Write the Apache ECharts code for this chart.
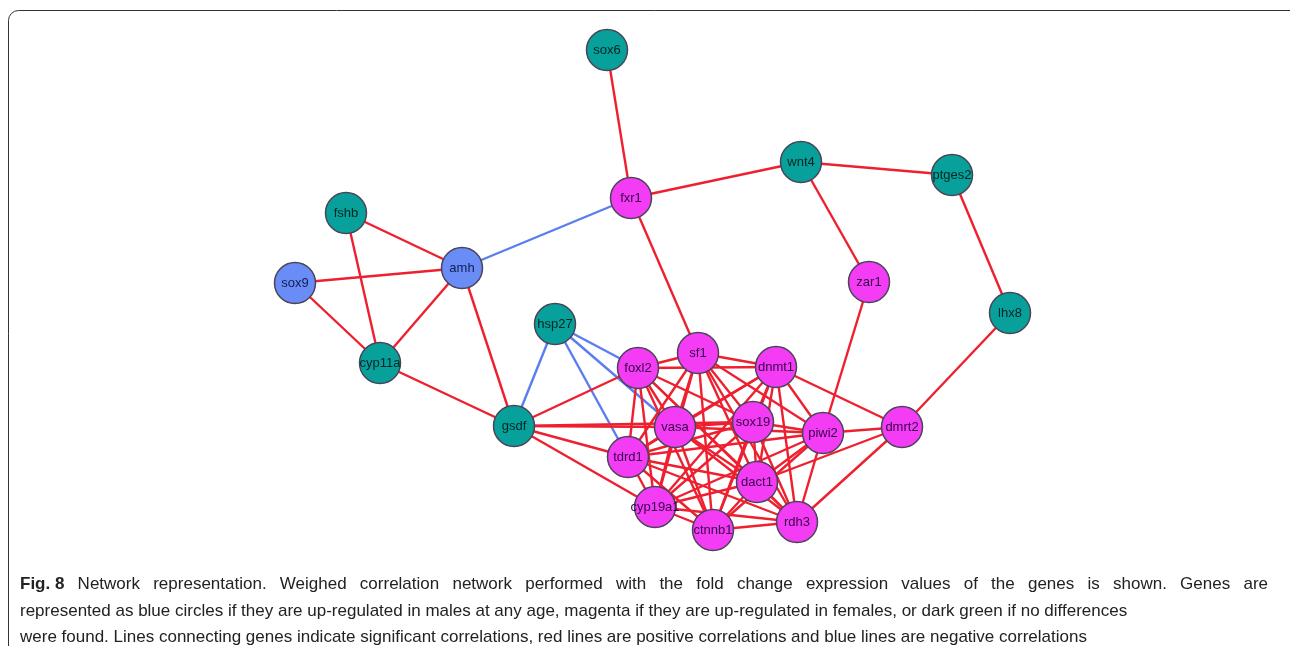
<!DOCTYPE html>
<html>
<head>
<meta charset="utf-8">
<script src="https://cdn.jsdelivr.net/npm/echarts@6/dist/echarts.min.js"></script>
<style>
  html, body { margin: 0; padding: 0; background: #fff; }
  #chart { width: 1290px; height: 646px; }
</style>
</head>
<body>
<div id="chart"></div>
<script>
// genes: name, position (px), group (0 = no difference, 1 = female up, 2 = male up)
var geneNames = ['sox6', 'wnt4', 'ptges2', 'fxr1', 'fshb', 'amh', 'sox9', 'zar1', 'lhx8', 'hsp27', 'cyp11a',
  'sf1', 'foxl2', 'dnmt1', 'vasa', 'sox19', 'piwi2', 'dmrt2', 'gsdf', 'tdrd1', 'dact1', 'cyp19a1', 'ctnnb1', 'rdh3'];
var geneX = [607, 801, 952, 631, 346, 462, 295, 869, 1010, 555, 380,
  698, 638, 776, 675, 753, 823, 902, 514, 628, 757, 655, 713, 797];
var geneY = [50, 162, 175, 198, 213, 268, 283, 282, 313, 324, 363,
  353, 368, 367, 427, 422, 433, 427, 426, 457, 482, 507, 530, 522];
var geneGroup = [0, 0, 0, 1, 0, 2, 2, 1, 0, 0, 0,
  1, 1, 1, 1, 1, 1, 1, 0, 1, 1, 1, 1, 1];

// correlations: 1 = positive (red), -1 = negative (blue); unlisted signs are positive
var edgeFrom = ['sox6', 'fxr1', 'wnt4', 'wnt4', 'ptges2', 'fxr1', 'fxr1', 'zar1', 'lhx8',
  'fshb', 'fshb', 'sox9', 'sox9', 'amh', 'amh', 'cyp11a',
  'hsp27', 'hsp27', 'hsp27', 'hsp27',
  'gsdf', 'gsdf', 'gsdf', 'gsdf', 'gsdf',
  'dmrt2', 'dmrt2', 'dmrt2', 'dmrt2',
  'foxl2', 'foxl2', 'foxl2', 'foxl2', 'foxl2', 'foxl2', 'foxl2', 'foxl2', 'foxl2',
  'sf1', 'sf1', 'sf1', 'sf1', 'sf1', 'sf1', 'sf1', 'sf1', 'sf1',
  'dnmt1', 'dnmt1', 'dnmt1', 'dnmt1', 'dnmt1', 'dnmt1', 'dnmt1', 'dnmt1',
  'vasa', 'vasa', 'vasa', 'vasa', 'vasa', 'vasa', 'vasa',
  'sox19', 'sox19', 'sox19', 'sox19', 'sox19', 'sox19',
  'piwi2', 'piwi2', 'piwi2', 'piwi2', 'piwi2',
  'tdrd1', 'tdrd1', 'tdrd1', 'tdrd1',
  'dact1', 'dact1', 'dact1',
  'cyp19a1', 'cyp19a1', 'ctnnb1'];
var edgeTo = ['fxr1', 'wnt4', 'ptges2', 'zar1', 'lhx8', 'amh', 'sf1', 'piwi2', 'dmrt2',
  'amh', 'cyp11a', 'amh', 'cyp11a', 'cyp11a', 'gsdf', 'gsdf',
  'gsdf', 'foxl2', 'vasa', 'tdrd1',
  'foxl2', 'vasa', 'sox19', 'tdrd1', 'cyp19a1',
  'dnmt1', 'piwi2', 'dact1', 'rdh3',
  'sf1', 'dnmt1', 'vasa', 'sox19', 'tdrd1', 'dact1', 'cyp19a1', 'ctnnb1', 'rdh3',
  'dnmt1', 'vasa', 'sox19', 'piwi2', 'tdrd1', 'dact1', 'cyp19a1', 'ctnnb1', 'rdh3',
  'vasa', 'sox19', 'piwi2', 'tdrd1', 'dact1', 'cyp19a1', 'ctnnb1', 'rdh3',
  'sox19', 'piwi2', 'tdrd1', 'dact1', 'cyp19a1', 'ctnnb1', 'rdh3',
  'piwi2', 'tdrd1', 'dact1', 'cyp19a1', 'ctnnb1', 'rdh3',
  'tdrd1', 'dact1', 'cyp19a1', 'ctnnb1', 'rdh3',
  'dact1', 'cyp19a1', 'ctnnb1', 'rdh3',
  'cyp19a1', 'ctnnb1', 'rdh3',
  'ctnnb1', 'rdh3', 'rdh3'];
var edgeSign = [1, 1, 1, 1, 1, -1, 1, 1, 1,
  1, 1, 1, 1, 1, 1, 1,
  -1, -1, -1, -1];

var captionLines = [
  'Network representation. Weighed correlation network performed with the fold change expression values of the genes is shown. Genes are',
  'represented as blue circles if they are up-regulated in males at any age, magenta if they are up-regulated in females, or dark green if no differences',
  'were found. Lines connecting genes indicate significant correlations, red lines are positive correlations and blue lines are negative correlations'
];

var groupColor = ['#08a09b', '#f53cf5', '#6a8cf7'];
var labelColor = ['#022624', '#34044a', '#0e1e50'];

var nodes = geneNames.map(function (name, i) {
  return {
    name: name,
    value: [geneX[i], geneY[i]],
    itemStyle: { color: groupColor[geneGroup[i]] },
    label: { color: labelColor[geneGroup[i]] }
  };
});

var links = edgeFrom.map(function (s, i) {
  var neg = edgeSign[i] === -1;
  return {
    source: s,
    target: edgeTo[i],
    lineStyle: { color: neg ? '#5a7ef0' : '#ee2030' }
  };
});

// caption: first line is justified to the full width, as in the printed figure
var capFont = '17px "Liberation Sans", Arial, sans-serif';
var capBold = 'bold 17px "Liberation Sans", Arial, sans-serif';
var ctx = document.createElement('canvas').getContext('2d');
var capGraphics = [];
(function () {
  var words = ['Fig. 8'].concat(captionLines[0].split(' '));
  var widths = words.map(function (w, i) {
    ctx.font = i === 0 ? capBold : capFont;
    return ctx.measureText(w).width;
  });
  var total = widths.reduce(function (a, b) { return a + b; }, 0);
  var gap = (1268 - 20 - total) / (words.length - 1);
  var x = 20;
  words.forEach(function (w, i) {
    capGraphics.push({
      type: 'text', x: x, y: 576,
      style: { text: w, font: i === 0 ? capBold : capFont, fill: '#222' }
    });
    x += widths[i] + gap;
  });
  capGraphics.push({ type: 'text', x: 20, y: 603, style: { text: captionLines[1], font: capFont, fill: '#222' } });
  capGraphics.push({ type: 'text', x: 20, y: 629, style: { text: captionLines[2], font: capFont, fill: '#222' } });
})();

var myChart = echarts.init(document.getElementById('chart'));
myChart.setOption({
  animation: false,
  backgroundColor: '#fff',
  grid: { left: 0, top: 0, width: 1290, height: 646 },
  xAxis: { type: 'value', min: 0, max: 1290, show: false },
  yAxis: { type: 'value', min: 0, max: 646, inverse: true, show: false },
  graphic: [
    {
      type: 'rect',
      shape: { x: 8.5, y: 10.5, width: 1300, height: 700, r: 10 },
      style: { fill: 'none', stroke: '#333', lineWidth: 1 },
      z: -1
    }
  ].concat(capGraphics),
  series: [{
    type: 'graph',
    coordinateSystem: 'cartesian2d',
    layout: 'none',
    symbol: 'circle',
    symbolSize: 41,
    data: nodes,
    links: links,
    itemStyle: { borderColor: '#4a4458', borderWidth: 1.5 },
    lineStyle: { width: 2.4, opacity: 1, curveness: 0 },
    label: {
      show: true,
      position: 'inside',
      fontFamily: '"Liberation Sans", Arial, sans-serif',
      fontSize: 13
    },
    emphasis: { disabled: true }
  }]
});
</script>
</body>
</html>
